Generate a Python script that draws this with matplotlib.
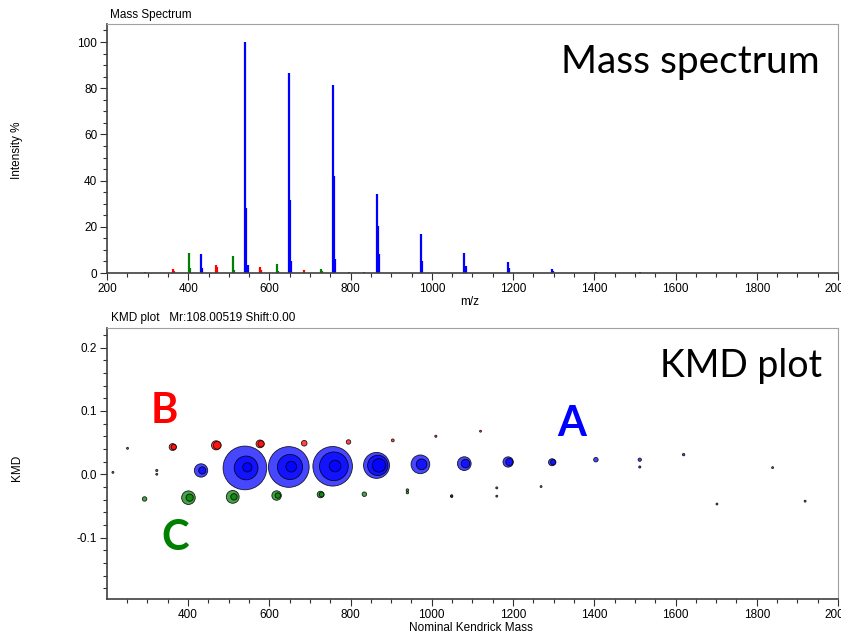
import numpy as np
import matplotlib.pyplot as plt
from matplotlib.ticker import MultipleLocator, FormatStrFormatter
from matplotlib.colors import to_rgba

plt.rcParams['font.family'] = ['Liberation Sans Narrow', 'Liberation Sans', 'DejaVu Sans']

# series A (blue): m/z, relative intensity %, Kendrick mass defect
a_mz = [432, 435, 540, 543, 546, 648, 651, 654, 756, 759, 762, 864, 867, 870,
        972, 975, 1080, 1083, 1188, 1191, 1296, 1299, 1404, 1512, 1512, 1620]
a_int = [8.2, 2.0, 100, 28.3, 3.6, 86.6, 31.8, 5.0, 81.5, 41.9, 6.0, 34.0, 20.2, 8.3,
         17.0, 5.0, 8.7, 3.0, 4.6, 2.0, 1.9, 1.0, 0.6, 0.25, 0.05, 0.08]
a_kmd = [0.006, 0.006, 0.010, 0.010, 0.011, 0.0115, 0.0115, 0.012, 0.0126, 0.0126, 0.013,
         0.014, 0.014, 0.014, 0.0157, 0.0157, 0.0168, 0.0168, 0.0194, 0.0194, 0.019, 0.019,
         0.023, 0.023, 0.0115, 0.031]

# series B (red)
b_mz = [362, 365, 469, 472, 577, 580, 686, 795, 904, 1010, 1120]
b_int = [1.8, 1.0, 3.5, 2.5, 2.4, 1.5, 1.1, 0.6, 0.15, 0.05, 0.03]
b_kmd = [0.043, 0.043, 0.0457, 0.0457, 0.048, 0.048, 0.049, 0.051, 0.0535, 0.060, 0.068]

# series C (green)
c_mz = [293, 401, 404, 510, 513, 618, 621, 726, 729, 834, 940, 940, 1049]
c_int = [0.6, 8.5, 2.0, 7.5, 1.5, 3.8, 1.0, 1.6, 0.8, 0.6, 0.1, 0.08, 0.06]
c_kmd = [-0.039, -0.037, -0.037, -0.0357, -0.0357, -0.0336, -0.0336, -0.032, -0.032,
         -0.0315, -0.025, -0.029, -0.035]

# other minor peaks
o_mz = [215, 251, 323, 323, 1049, 1160, 1160, 1269, 1702, 1839, 1919]
o_int = [0.03, 0.03, 0.05, 0.03, 0.05, 0.04, 0.03, 0.03, 0.03, 0.03, 0.03]
o_kmd = [0.003, 0.041, 0.006, 0.0, -0.034, -0.0215, -0.0346, -0.0194, -0.047, 0.0105, -0.0425]

series = [
    (o_mz, o_int, o_kmd, '#404040'),
    (c_mz, c_int, c_kmd, '#008000'),
    (b_mz, b_int, b_kmd, '#ff0000'),
    (a_mz, a_int, a_kmd, '#0000ff'),
]

W, H = 841, 634
fig = plt.figure(figsize=(W / 100, H / 100), dpi=100)


def style_axes(ax):
    for s in ['left', 'bottom']:
        ax.spines[s].set_color('#404040')
        ax.spines[s].set_linewidth(1.2)
    for s in ['top', 'right']:
        ax.spines[s].set_color('#a0a0a0')
        ax.spines[s].set_linewidth(0.8)
    ax.tick_params(which='major', length=5, width=0.8, labelsize=8.5, color='#303030', pad=2)
    ax.tick_params(which='minor', length=3, width=0.8, color='#303030')


# mass spectrum
ax1 = fig.add_axes([107 / W, 1 - 273 / H, 731 / W, 249 / H])
for mz, inten, kmd, col in series:
    ax1.vlines(mz, 0, inten, colors=col, lw=1.6)
ax1.set_xlim(200, 2000)
ax1.set_ylim(0, 107.8)
ax1.xaxis.set_major_locator(MultipleLocator(200))
ax1.xaxis.set_minor_locator(MultipleLocator(50))
ax1.yaxis.set_major_locator(MultipleLocator(20))
ax1.yaxis.set_minor_locator(MultipleLocator(5))
style_axes(ax1)

# KMD plot, circle area follows intensity
ax2 = fig.add_axes([107 / W, 1 - 599 / H, 731 / W, 271 / H])
xs, ys, ss, fcs = [], [], [], []
for mz, inten, kmd, col in series:
    for m, i, k in zip(mz, inten, kmd):
        d = 1.2 + 4.25 * np.sqrt(i)  # diameter in pixels
        xs.append(m)
        ys.append(k)
        ss.append((d / 1.389) ** 2)
        fcs.append(to_rgba(col, 0.72))
order = np.argsort(ss)[::-1]
ax2.scatter(np.array(xs)[order], np.array(ys)[order], s=np.array(ss)[order],
            c=[fcs[j] for j in order], edgecolors=(0, 0, 0, 0.85), linewidths=0.6, zorder=3)
ax2.set_xlim(200.5, 2000)
ax2.set_ylim(-0.197, 0.231)
ax2.xaxis.set_major_locator(MultipleLocator(200))
ax2.xaxis.set_minor_locator(MultipleLocator(50))
ax2.yaxis.set_major_locator(MultipleLocator(0.1))
ax2.yaxis.set_minor_locator(MultipleLocator(0.02))
ax2.yaxis.set_major_formatter(FormatStrFormatter('%.1f'))
style_axes(ax2)

# small labels
fig.text(110 / W, 1 - 15 / H, 'Mass Spectrum', fontsize=8.5, va='center', ha='left')
fig.text(111 / W, 1 - 318 / H, 'KMD plot   Mr:108.00519 Shift:0.00', fontsize=8.5, va='center', ha='left')
fig.text(17 / W, 1 - 150 / H, 'Intensity %', fontsize=8.5, rotation=90, va='center', ha='center')
fig.text(17 / W, 1 - 468 / H, 'KMD', fontsize=8.5, rotation=90, va='center', ha='center')
fig.text(470 / W, 1 - 302 / H, 'm/z', fontsize=8.5, va='center', ha='center')
fig.text(471 / W, 1 - 628 / H, 'Nominal Kendrick Mass', fontsize=8.5, va='center', ha='center')

# big annotations
big = ['Lato', 'DejaVu Sans']
fig.text(820 / W, 1 - 73 / H, 'Mass spectrum', fontsize=28, family=big, ha='right', va='baseline')
fig.text(822 / W, 1 - 377 / H, 'KMD plot', fontsize=27, family=big, ha='right', va='baseline')
fig.text(572 / W, 1 - 436 / H, 'A', fontsize=30, family=big, weight='bold', color='#0000ff',
         ha='center', va='baseline')
fig.text(164 / W, 1 - 423 / H, 'B', fontsize=30, family=big, weight='bold', color='#ff0000',
         ha='center', va='baseline')
fig.text(175 / W, 1 - 550 / H, 'C', fontsize=30, family=big, weight='bold', color='#008000',
         ha='center', va='baseline')

fig.savefig('out.png', dpi=100)
